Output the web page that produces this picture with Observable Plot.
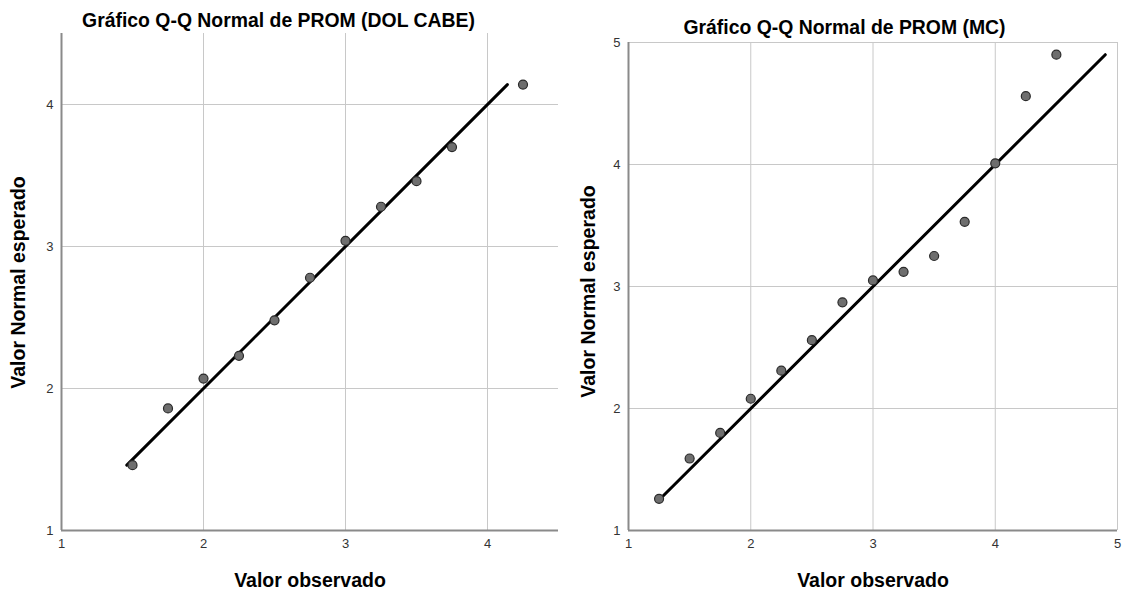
<!DOCTYPE html>
<html>
<head>
<meta charset="utf-8">
<script src="https://cdn.jsdelivr.net/npm/d3@7"></script>
<script src="https://cdn.jsdelivr.net/npm/@observablehq/plot@0.6"></script>
<style>
  html, body { margin: 0; padding: 0; background: #fff; }
  #wrap { position: relative; width: 1123px; height: 595px; overflow: hidden; font-family: "Liberation Sans", Arial, sans-serif; }
  #wrap svg { position: absolute; top: 0; }
</style>
</head>
<body>
<div id="wrap"></div>
<script>
// Panel 1: PROM (DOL CABE)
const title1 = "Gráfico Q-Q Normal de PROM (DOL CABE)";
const observed1 = [1.5, 1.75, 2.0, 2.25, 2.5, 2.75, 3.0, 3.25, 3.5, 3.75, 4.25];
const expected1 = [1.46, 1.86, 2.07, 2.23, 2.48, 2.78, 3.04, 3.28, 3.46, 3.70, 4.14];
const ticks1 = [1, 2, 3, 4];
const domain1 = [1, 4.5];

// Panel 2: PROM (MC)
const title2 = "Gráfico Q-Q Normal de PROM (MC)";
const observed2 = [1.25, 1.5, 1.75, 2.0, 2.25, 2.5, 2.75, 3.0, 3.25, 3.5, 3.75, 4.0, 4.25, 4.5];
const expected2 = [1.26, 1.59, 1.80, 2.08, 2.31, 2.56, 2.87, 3.05, 3.12, 3.25, 3.53, 4.01, 4.56, 4.90];
const ticks2 = [1, 2, 3, 4, 5];
const domain2 = [1, 5];

const xLabel = "Valor observado";
const yLabel = "Valor Normal esperado";

function qq({title, observed, expected, ticks, domain, width, margins, titleDx, titleDy, yLabelDx, yLabelDy}) {
  const pts = observed.map((o, i) => ({x: o, y: expected[i]}));
  const lo = d3.min(expected), hi = d3.max(expected);
  const ref = [{x: lo, y: lo}, {x: hi, y: hi}];
  return Plot.plot({
    width, height: 595,
    marginLeft: margins[0], marginRight: margins[1], marginTop: margins[2], marginBottom: margins[3],
    style: {fontFamily: "'Liberation Sans', Arial, sans-serif", fontSize: "13px", color: "#333", background: "transparent", overflow: "visible"},
    x: {domain, ticks, axis: null},
    y: {domain, ticks, axis: null},
    marks: [
      Plot.gridX(ticks, {stroke: "#c8c8c8", strokeOpacity: 1, strokeWidth: 1}),
      Plot.gridY(ticks, {stroke: "#c8c8c8", strokeOpacity: 1, strokeWidth: 1}),
      Plot.axisX(ticks, {tickSize: 0, tickPadding: 8, label: null, fill: "#333", fontSize: 13, tickFormat: "d"}),
      Plot.axisY(ticks, {tickSize: 0, tickPadding: 8, label: null, fill: "#333", fontSize: 13, tickFormat: "d"}),
      Plot.ruleX([domain[0]], {stroke: "#8a8a8a", strokeWidth: 2}),
      Plot.ruleY([domain[0]], {stroke: "#8a8a8a", strokeWidth: 2}),
      Plot.line(ref, {x: "x", y: "y", stroke: "#000", strokeWidth: 3}),
      Plot.dot(pts, {x: "x", y: "y", r: 4.5, fill: "#6e6e6e", stroke: "#2a2a2a", strokeWidth: 1.2}),
      Plot.text([title], {frameAnchor: "top", textAnchor: "middle", lineAnchor: "middle", dx: titleDx, dy: titleDy, fontSize: 19.4, fontWeight: "bold", fill: "#000"}),
      Plot.text([xLabel], {frameAnchor: "bottom", textAnchor: "middle", lineAnchor: "middle", dy: 50, fontSize: 19.5, fontWeight: "bold", fill: "#000"}),
      Plot.text([yLabel], {frameAnchor: "left", textAnchor: "middle", lineAnchor: "middle", dx: yLabelDx, dy: yLabelDy, rotate: -90, fontSize: 19.5, fontWeight: "bold", fill: "#000"})
    ]
  });
}

const wrap = document.getElementById("wrap");
const p1 = qq({title: title1, observed: observed1, expected: expected1, ticks: ticks1, domain: domain1,
  width: 560, margins: [61, 2, 33, 65], titleDx: 278 - 309.5, titleDy: -13, yLabelDx: -42.5, yLabelDy: 0.5});
p1.style.left = "0px";
wrap.appendChild(p1);
const p2 = qq({title: title2, observed: observed2, expected: expected2, ticks: ticks2, domain: domain2,
  width: 563, margins: [68, 6, 42, 65], titleDx: 844 - 872.5, titleDy: -15, yLabelDx: -40, yLabelDy: 5});
p2.style.left = "560px";
wrap.appendChild(p2);
</script>
</body>
</html>
